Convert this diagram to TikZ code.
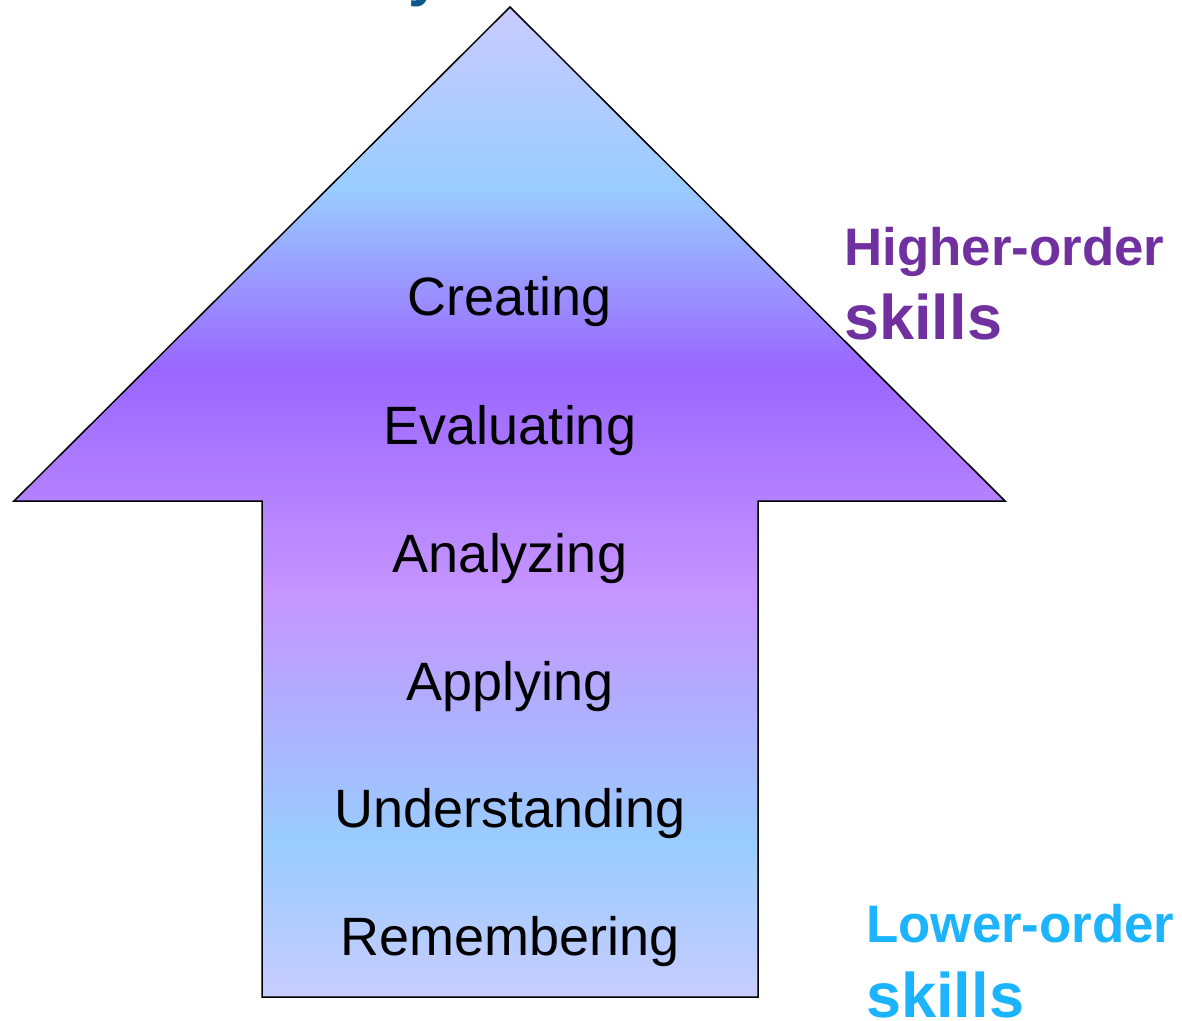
\documentclass[tikz,border=0pt]{standalone}
\usepackage{fontspec}
\setmainfont{Liberation Sans}
\usetikzlibrary{positioning}
\definecolor{lavtop}{HTML}{CACBFF}
\definecolor{lavbottom}{HTML}{C8CCFF}
\definecolor{skyblue}{HTML}{99CCFF}
\definecolor{bloomviolet}{HTML}{9A66FF}
\definecolor{lilac}{HTML}{C594FF}
\definecolor{higherpurple}{HTML}{7030A0}
\definecolor{lowerblue}{HTML}{1CB3FF}
\definecolor{titleblue}{HTML}{0B5A8C}
% bands run bottom (0bp) to top (100bp); 25bp..75bp is the path
\pgfdeclareverticalshading{bloomfade}{100bp}{
    color(0bp)=(lavbottom); color(25bp)=(lavbottom);
    color(32.9bp)=(skyblue); color(45.6bp)=(lilac);
    color(56.7bp)=(bloomviolet); color(65.8bp)=(skyblue);
    color(75bp)=(lavtop); color(100bp)=(lavtop)}
\tikzset{
    arrowbody/.style={
        draw=black,
        line width=0.75pt,
        line join=miter,
        shading=bloomfade
    },
    level/.style={
        anchor=base,
        inner sep=0pt,
        font=\fontsize{27}{32}\selectfont
    },
    order/.style={
        anchor=base west,
        inner sep=0pt,
        font=\bfseries\fontsize{26.4}{31}\selectfont
    },
    skills/.style={
        order,
        font=\bfseries\fontsize{31.5}{37}\selectfont
    }
}

\begin{document}
\begin{tikzpicture}[x=0.5pt, y=-0.5pt]
    \useasboundingbox (0, 0) rectangle (1182, 1021);
    \clip (0, 0) rectangle (1182, 1021);
    % Title (only its tail shows):
    \node [order, anchor=base east, text=titleblue, font=\bfseries\fontsize{30}{36}\selectfont] (title) at (442, -5) {Bloom's Taxonomy};
    % Arrow:
    \path [arrowbody] (510, 7) -- (1005, 501) -- (758, 501) -- (758, 997)
        -- (262, 997) -- (262, 501) -- (14, 501) -- cycle;
    % Levels:
    \node [level] (creating) at (510, 316) {Creating};
    \node [level] (evaluating) at (510, 444) {Evaluating};
    \node [level] (analyzing) at (510, 572) {Analyzing};
    \node [level] (applying) at (510, 700) {Applying};
    \node [level] (understanding) at (510, 827) {Understanding};
    \node [level] (remembering) at (510, 955) {Remembering};
    % Skills:
    \node [order, text=higherpurple] (higher) at (844, 266) {Higher-order};
    \node [skills, text=higherpurple] (higherskills) at (844, 340) {skills};
    \node [order, text=lowerblue] (lower) at (866, 942) {Lower-order};
    \node [skills, text=lowerblue] (lowerskills) at (866, 1017) {skills};
\end{tikzpicture}
\end{document}
